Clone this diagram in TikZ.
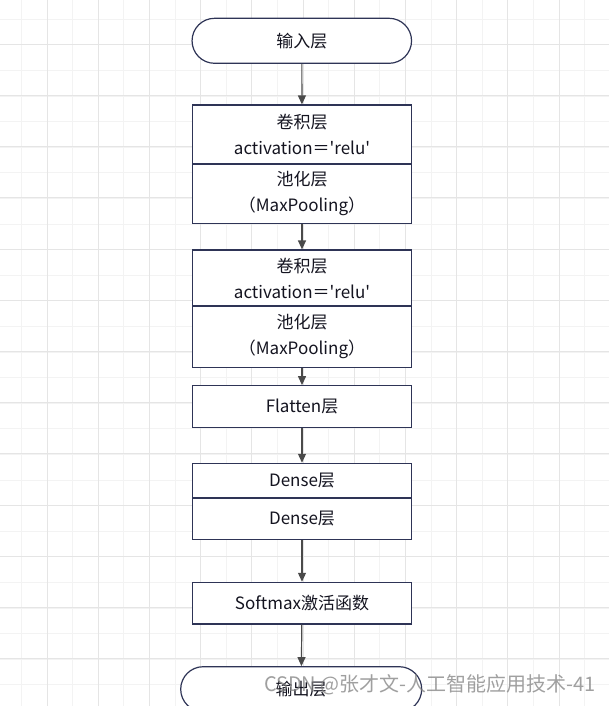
\documentclass[tikz,border=0pt]{standalone}
\usepackage{fontspec}
\setmainfont{Noto Sans CJK SC}
\usetikzlibrary{positioning,arrows.meta,shapes.misc}
\definecolor{gridminor}{HTML}{F3F3F3}
\definecolor{gridmajor}{HTML}{E5E5E5}
\definecolor{boxline}{HTML}{2E3456}
\definecolor{boxtext}{HTML}{141420}
\definecolor{arrowline}{HTML}{4A4A4A}
\tikzset{
  layer/.style={draw=boxline, line width=1.2pt, fill=white, text=boxtext,
    minimum width=219pt, align=center, inner sep=0pt,
    font=\fontsize{17}{26}\selectfont},
  terminal/.style={layer, rounded rectangle, minimum height=45pt},
  flow/.style={draw=arrowline, line width=1.2pt, -{Triangle[length=9pt,width=8pt]}},
}
\begin{document}
\begin{tikzpicture}[x=1pt,y=-1pt]
\useasboundingbox (0,0) rectangle (609,706);
\clip (0,0) rectangle (609,706);
% grid behind the flow
\foreach \k in {0,...,22} % vertical, thin
\draw[gridminor, line width=1pt] (21.5+25.6*\k,0) -- (21.5+25.6*\k,706);
\foreach \k in {0,...,27} % horizontal, thin
\draw[gridminor, line width=1pt] (0,19.3+25.6*\k) -- (609,19.3+25.6*\k);
\foreach \k in {0,...,10} % vertical, thick
\draw[gridmajor, line width=1pt] (47+51.2*\k,0) -- (47+51.2*\k,706);
\foreach \k in {0,...,12} % horizontal, thick
\draw[gridmajor, line width=1pt] (0,44.3+51.2*\k) -- (609,44.3+51.2*\k);

% layers
\node[terminal, minimum width=219.5pt] (in) at (301.8,40.8) {输入层};
\node[layer, minimum height=59pt] (conv1) at (302,134.5) {卷积层\\activation＝\textquotesingle relu\textquotesingle};
\node[layer, minimum height=59.3pt, below=-1.2pt of conv1] (pool1) {池化层\\（MaxPooling）};
\node[layer, minimum height=56pt] (conv2) at (302,278) {卷积层\\activation＝\textquotesingle relu\textquotesingle};
\node[layer, minimum height=61.7pt, below=-1.2pt of conv2] (pool2) {池化层\\（MaxPooling）};
\node[layer, minimum height=42pt] (flat) at (302,406.7) {Flatten层};
\node[layer, minimum height=34.7pt] (dense1) at (302,480.7) {Dense层};
\node[layer, minimum height=41.3pt, below=-1.2pt of dense1] (dense2) {Dense层};
\node[layer, minimum height=41.7pt] (soft) at (302,603.2) {Softmax激活函数};
\node[terminal, minimum width=241pt] (out) at (301.2,689.2) {输出层};

% arrows
\draw[flow] (in) -- (conv1);
\draw[flow] (pool1) -- (conv2);
\draw[flow] (pool2) -- (flat);
\draw[flow] (flat) -- (dense1);
\draw[flow] (dense2) -- (soft);
\draw[flow] (soft) -- (out);

\node[text=gray, opacity=0.75, font=\fontsize{20}{24}\selectfont] (mark) at (430,685) {CSDN @张才文-人工智能应用技术-41};
\end{tikzpicture}
\end{document}
